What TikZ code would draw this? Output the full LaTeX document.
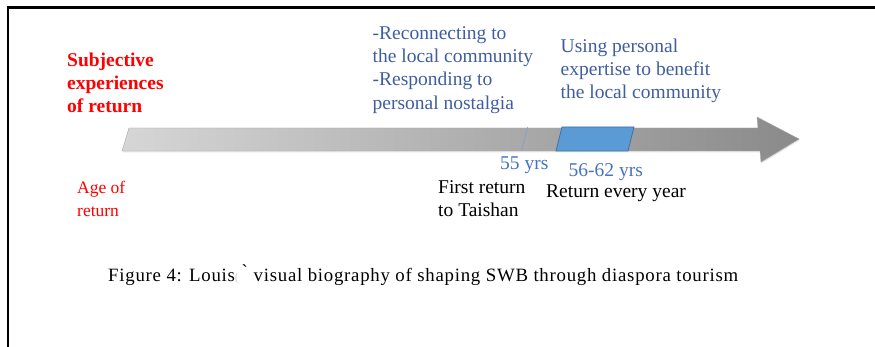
\documentclass[tikz,border=0pt]{standalone}
\usepackage{fontspec}
\setmainfont{Liberation Serif}
\definecolor{redtxt}{RGB}{255,0,0}
\definecolor{bluetxt}{RGB}{63,94,160}
\definecolor{yrsblue}{RGB}{68,114,196}
\definecolor{boxfill}{RGB}{91,155,213}
\definecolor{boxedge}{RGB}{65,113,156}
\definecolor{barlight}{RGB}{214,214,214}
\definecolor{bardark}{RGB}{138,138,138}
\tikzset{
  lbl/.style={inner sep=0pt, align=left, anchor=north west},
  bluetext/.style={lbl, text=bluetxt, font=\fontsize{19.5}{23.3}\selectfont},
  yrstext/.style={inner sep=0pt, anchor=base west, text=yrsblue, font=\fontsize{19.5}{23}\selectfont},
  blacktext/.style={lbl, text=black, font=\fontsize{19.5}{23.5}\selectfont},
}
\begin{document}
\begin{tikzpicture}[x=1pt, y=-1pt]
  \useasboundingbox (0,0) rectangle (875,347);
  % frame lines
  \draw[line width=2.4pt] (8,347) -- (8,7.5) -- (875,7.5);

  % timeline arrow with a faint shadow
  \fill[black, opacity=0.10] (129.5,129) -- (758.5,129) -- (757.5,118) -- (800,140) -- (761.5,163.5) -- (760.5,152.5) -- (122.5,152.5) -- cycle;
  \shade[left color=barlight, right color=bardark]
    (129,128) coordinate (barA) -- (758,128) -- (757,117) -- (799,139) coordinate (tip)
    -- (761,162) -- (760,151) -- (122,151) -- cycle;
  \draw[gray!70, line width=0.4pt] (129,128) -- (758,128) -- (757,117) -- (799,139)
    -- (761,162) -- (760,151) -- (122,151) -- cycle;

  % first-return marker and yearly-return span
  \coordinate (m1) at (527.5,127);
  \coordinate (m2) at (521.5,151);
  \draw[yrsblue!70, line width=0.6pt] (m1) -- (m2);
  \draw[boxedge, fill=boxfill, line width=0.8pt]
    (562,127) coordinate (spanTL) -- (634,127) -- (628,151) -- (556,151) coordinate (spanBL) -- cycle;

  % labels
  \node[lbl, text=redtxt, font=\fontsize{19.5}{23}\selectfont\bfseries] (subj) at (67,53)
    {Subjective\\experiences\\of return};
  \node[bluetext] (early) at (372.5,26) {-Reconnecting to\\the local community\\-Responding to\\personal nostalgia};
  \node[bluetext] (later) at (560.5,38.5) {Using personal\\expertise to benefit\\the local community};
  \node[yrstext] (y55) at (500,170) {55 yrs};
  \node[yrstext] (y5662) at (568.5,177) {56-62 yrs};
  \node[lbl, text=redtxt, font=\fontsize{17.5}{23}\selectfont] (age) at (77,181) {Age of\\return};
  \node[blacktext] (first) at (438,180) {First return\\to Taishan};
  \node[blacktext] (every) at (546,185) {Return every year};
  \node[inner sep=0pt, anchor=base west, font=\fontsize{18.8}{21}\selectfont\addfontfeature{LetterSpace=4}] (cap) at (108,282)
    {Figure 4: Louis{\color{black!20}\fontsize{12}{12}\selectfont(}\hspace{4pt}\`{}\hspace{6pt}visual biography of shaping SWB through diaspora tourism};
\end{tikzpicture}
\end{document}
